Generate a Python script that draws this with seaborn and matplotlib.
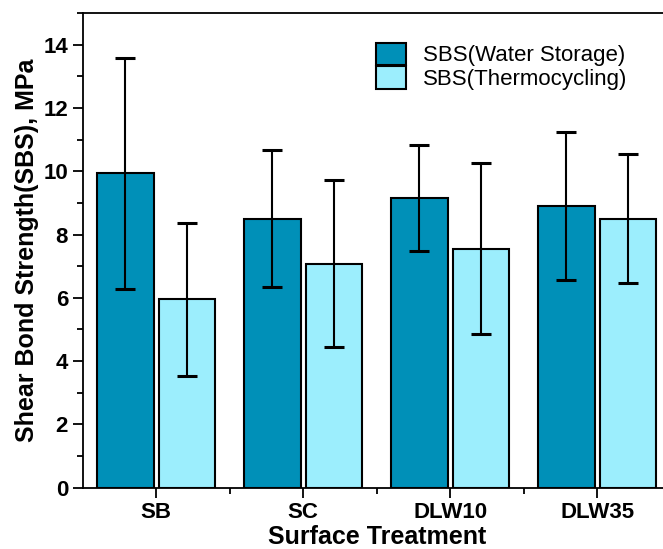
import matplotlib
matplotlib.use("Agg")
import matplotlib.pyplot as plt
import seaborn as sns
import pandas as pd
from matplotlib.ticker import MultipleLocator, FixedLocator

treatments = ["SB", "SC", "DLW10", "DLW35"]
series = ["SBS(Water Storage)", "SBS(Thermocycling)"]
water_mean = [9.93, 8.50, 9.16, 8.90]
water_sd = [3.65, 2.16, 1.68, 2.35]
thermo_mean = [5.95, 7.08, 7.55, 8.50]
thermo_sd = [2.42, 2.64, 2.70, 2.03]
colors = ["#0090B8", "#9CEEFD"]

df = pd.DataFrame({
    "Surface Treatment": treatments * 2,
    "Series": [series[0]] * 4 + [series[1]] * 4,
    "SBS": water_mean + thermo_mean,
})

sns.set_style("ticks")
plt.rcParams["font.family"] = ["Liberation Sans", "DejaVu Sans"]
plt.rcParams["text.color"] = "black"
plt.rcParams["axes.labelcolor"] = "black"
plt.rcParams["xtick.color"] = "black"
plt.rcParams["ytick.color"] = "black"

W, H = 663, 549
fig = plt.figure(figsize=(W / 100, H / 100), dpi=100)
left, right, top, bottom = 82.7, 670.7, 13.0, 487.7
ax = fig.add_axes([left / W, 1 - bottom / H, (right - left) / W, (bottom - top) / H])

sns.barplot(data=df, x="Surface Treatment", y="SBS", hue="Series",
            palette=colors, width=0.84, gap=0.08, edgecolor="black",
            linewidth=1.5, errorbar=None, saturation=1, ax=ax)

sds = [water_sd, thermo_sd]
for cont, sd in zip(ax.containers, sds):
    xs = [b.get_x() + b.get_width() / 2 for b in cont]
    ys = [b.get_height() for b in cont]
    ax.errorbar(xs, ys, yerr=sd, fmt="none", ecolor="black", elinewidth=1.5,
                capsize=7, capthick=2.2, zorder=5)

ax.set_xlim(-0.5, 3.5)
ax.set_ylim(0, 15)
ax.set_yticks([0, 2, 4, 6, 8, 10, 12, 14])
ax.yaxis.set_minor_locator(MultipleLocator(1))
ax.xaxis.set_minor_locator(FixedLocator([0.5, 1.5, 2.5]))

for s in ["left", "bottom", "top"]:
    ax.spines[s].set_linewidth(1.3)
    ax.spines[s].set_color("black")
ax.spines["right"].set_visible(False)

ax.tick_params(axis="both", which="major", length=7, width=1.3, labelsize=16, colors="black")
ax.tick_params(axis="both", which="minor", length=4, width=1.3)
ax.tick_params(axis="y", which="both", right=False)
ax.tick_params(axis="x", which="both", top=False)
for lab in ax.get_xticklabels() + ax.get_yticklabels():
    lab.set_fontweight("bold")

ax.set_xlabel("Surface Treatment", fontsize=18, fontweight="bold", color="black")
ax.set_ylabel("Shear Bond Strength(SBS), MPa", fontsize=18, fontweight="bold", color="black")
ax.xaxis.set_label_coords((377 - left) / (right - left), -(537 - bottom) / (bottom - top), transform=ax.transAxes)
ax.yaxis.set_label_coords(-(left - 27) / (right - left), 0.5, transform=ax.transAxes)
ax.xaxis.label.set_va("center")
ax.yaxis.label.set_va("center")

handles, labels = ax.get_legend_handles_labels()
leg = ax.legend(handles, labels, loc="upper left",
                bbox_to_anchor=(376 / W, 1 - 42.7 / H), bbox_transform=fig.transFigure,
                frameon=False, fontsize=16, handlelength=1.35, handleheight=1.17,
                labelspacing=0.0, handletextpad=0.78, borderpad=0, borderaxespad=0)
for h in leg.legend_handles:
    h.set_edgecolor("black")
    h.set_linewidth(1.5)
for t in leg.get_texts():
    t.set_color("black")

fig.savefig("out.png", dpi=100)
